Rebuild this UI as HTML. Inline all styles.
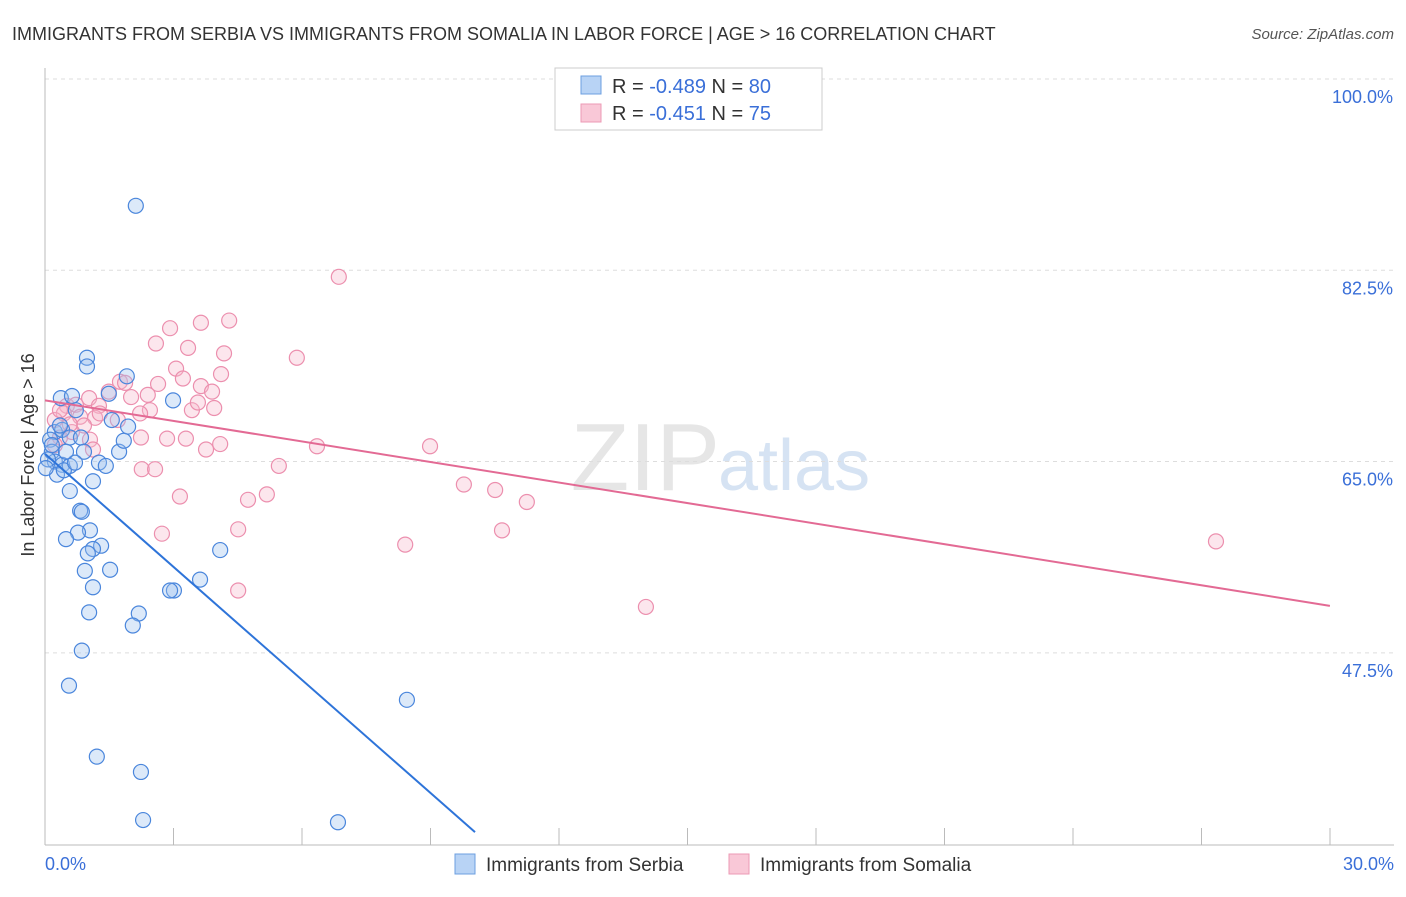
<!DOCTYPE html>
<html><head><meta charset="utf-8"><style>
body{margin:0;background:#fff;font-family:"Liberation Sans",sans-serif;}
svg text{font-family:"Liberation Sans",sans-serif;}
</style></head><body>
<svg id="chart" width="1406" height="892" xmlns="http://www.w3.org/2000/svg">
<text x="12" y="40" font-size="18" fill="#333">IMMIGRANTS FROM SERBIA VS IMMIGRANTS FROM SOMALIA IN LABOR FORCE | AGE &gt; 16 CORRELATION CHART</text>
<text x="1394" y="39" font-size="15" fill="#555" font-style="italic" text-anchor="end">Source: ZipAtlas.com</text>
<text x="720" y="490" font-size="96" fill="#e6e6e6" text-anchor="end" font-family="Liberation Serif">ZIP</text>
<text x="718" y="490" font-size="72" fill="#d6e3f3">atlas</text>
<g id="grid"></g><g id="axes"></g><g id="pts"></g><g id="trend"></g>
<text transform="translate(34,455) rotate(-90)" font-size="18" fill="#333" text-anchor="middle">In Labor Force | Age &gt; 16</text>
<g>
<rect x="555" y="68" width="267" height="62" fill="#fff" stroke="#ccc"/>
<rect x="581" y="76" width="20" height="18" fill="#b8d3f5" stroke="#6c9fe0"/>
<rect x="581" y="104" width="20" height="18" fill="#f9c8d7" stroke="#ec9ab4"/>
<text x="612" y="93" font-size="20" fill="#333">R = <tspan fill="#3a6fd8">-0.489</tspan>   N = <tspan fill="#3a6fd8">80</tspan></text>
<text x="612" y="120" font-size="20" fill="#333">R =  <tspan fill="#3a6fd8">-0.451</tspan>   N =  <tspan fill="#3a6fd8">75</tspan></text>
</g>
<g>
<rect x="455" y="854" width="20" height="20" fill="#b8d3f5" stroke="#6c9fe0"/>
<text x="486" y="871" font-size="19" fill="#333">Immigrants from Serbia</text>
<rect x="729" y="854" width="20" height="20" fill="#f9c8d7" stroke="#ec9ab4"/>
<text x="760" y="871" font-size="19" fill="#333">Immigrants from Somalia</text>
</g>
</svg>
<script>
const yTicks=[100,82.5,65,47.5];
const yTickLabels=["100.0%","82.5%","65.0%","47.5%"];
const xTickLabels=["0.0%","30.0%"];
const serbiaX=[2.12,0.98,0.98,1.91,2.99,0.37,0.63,0.72,1.49,1.56,0.23,0.40,0.58,0.84,0.91,0.12,0.16,0.23,0.40,0.58,0.28,0.44,0.70,1.26,1.42,1.73,1.84,1.94,1.12,0.58,0.82,0.86,1.05,0.77,0.49,1.31,1.12,1.00,1.52,0.93,4.09,3.62,3.01,2.92,1.12,2.19,1.03,2.05,0.86,0.56,8.45,1.21,2.24,2.29,6.84,0.07,0.16,0.35,0.49,0.02];
const serbiaY=[88.4,74.5,73.7,72.8,70.6,70.8,71.0,69.7,71.2,68.8,67.7,67.9,67.2,67.2,65.9,67.0,65.9,65.0,64.7,64.6,63.8,64.2,64.9,64.9,64.6,65.9,66.9,68.2,63.2,62.3,60.5,60.4,58.7,58.5,57.9,57.3,57.0,56.6,55.1,55.0,56.9,54.2,53.2,53.2,53.5,51.1,51.2,50.0,47.7,44.5,43.2,38.0,36.6,32.2,32.0,65.2,66.5,68.3,65.9,64.4];
const somaliaX=[6.86,4.30,3.64,2.92,2.59,3.34,4.18,5.88,3.06,4.11,3.22,2.64,3.64,1.75,1.87,1.49,2.40,2.01,3.90,1.03,0.51,0.72,1.26,2.45,2.22,3.43,3.95,3.57,0.44,0.82,1.17,1.70,1.28,0.91,0.63,0.35,0.23,2.24,2.85,3.29,4.09,3.76,6.35,8.99,1.05,1.12,5.46,2.26,2.57,9.78,10.51,3.15,4.74,5.18,11.25,4.51,2.73,10.67,8.41,27.34,4.51,14.03,0.23,0.35,0.58];
const somaliaY=[81.9,77.9,77.7,77.2,75.8,75.4,74.9,74.5,73.5,73.0,72.6,72.1,71.9,72.3,72.2,71.4,71.1,70.9,71.4,70.8,70.1,70.2,70.1,69.7,69.4,69.7,69.9,70.4,69.4,69.1,69.0,68.8,69.4,68.3,67.7,67.2,66.5,67.2,67.1,67.1,66.6,66.1,66.4,66.4,67.0,66.1,64.6,64.3,64.3,62.9,62.4,61.8,61.5,62.0,61.3,58.8,58.4,58.7,57.4,57.7,53.2,51.7,68.8,69.7,68.4];
const serbiaTrendX=[0,10.04], serbiaTrendY=[65.7,31.1];
const somaliaTrendX=[0,30], somaliaTrendY=[70.6,51.8];
const X=v=>45+v*42.83, Y=v=>79+(100-v)*10.93;
const NS="http://www.w3.org/2000/svg";
function mk(t,a,p){const e=document.createElementNS(NS,t);for(const k in a)e.setAttribute(k,a[k]);p.appendChild(e);return e;}
const grid=document.getElementById('grid'),axes=document.getElementById('axes'),pts=document.getElementById('pts'),tr=document.getElementById('trend');
yTicks.forEach((v,i)=>{
 const l=mk('line',{x1:45,x2:1394,y1:Y(v),y2:Y(v),stroke:'#ddd','stroke-dasharray':'4,4'},grid);
 
 
 const t=mk('text',{x:1393,y:Y(v)+24,'font-size':18,fill:'#3a6fd8','text-anchor':'end'},axes);
 t.textContent=yTickLabels[i];
 
 
});
const ya=mk('line',{x1:45,x2:45,y1:68,y2:845,stroke:'#bbb'},axes);


const xa=mk('line',{x1:45,x2:1394,y1:845,y2:845,stroke:'#bbb'},axes);


for(let i=1;i<=10;i++){const tk=mk('line',{x1:45+i*128.5,x2:45+i*128.5,y1:828,y2:845,stroke:'#bbb'},axes);
 
 }
[[0,'start'],[30,'end']].forEach((a,i)=>{const t=mk('text',{x:i?1394:45,y:870,'font-size':18,fill:'#3a6fd8','text-anchor':a[1]},axes);t.textContent=xTickLabels[i];
 
 });
function series(xs,ys,fill,stroke,name){xs.forEach((x,i)=>{const c=mk('circle',{cx:X(x),cy:Y(ys[i]),r:7.5,fill:fill,'fill-opacity':0.35,stroke:stroke,'stroke-width':1.2},pts);
 
 });}
series(somaliaX,somaliaY,'#f7b6ca','#ec8fae','point-somalia');
series(serbiaX,serbiaY,'#9cc0ef','#4a86dc','point-serbia');
const t1=mk('line',{x1:X(serbiaTrendX[0]),y1:Y(serbiaTrendY[0]),x2:X(serbiaTrendX[1]),y2:Y(serbiaTrendY[1]),stroke:'#2e74d9','stroke-width':2},tr);


const t2=mk('line',{x1:X(somaliaTrendX[0]),y1:Y(somaliaTrendY[0]),x2:X(somaliaTrendX[1]),y2:Y(somaliaTrendY[1]),stroke:'#e36a94','stroke-width':2},tr);


</script>
</body></html>
